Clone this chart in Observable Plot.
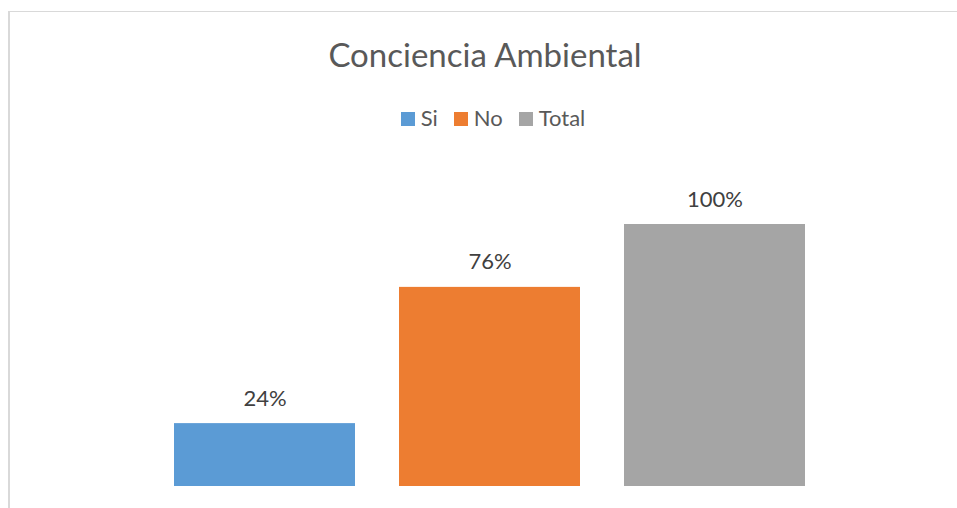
<!DOCTYPE html>
<html>
<head>
<meta charset="utf-8">
<script src="https://cdn.jsdelivr.net/npm/d3@7"></script>
<script src="https://cdn.jsdelivr.net/npm/@observablehq/plot@0.6"></script>
<style>
  html, body { margin: 0; padding: 0; background: #fff; }
  #wrap { position: relative; width: 957px; height: 508px; overflow: hidden; font-family: Lato, "Open Sans", sans-serif; }
  #frame { position: absolute; left: 8px; top: 11px; width: 2000px; height: 2000px; border-left: 2px solid #d9d9d9; border-top: 1px solid #d9d9d9; }
  #title { position: absolute; left: 0; top: 37.7px; width: 970px; text-align: center; font-size: 33px; line-height: 1; color: #595959; white-space: nowrap; }
  #legend { position: absolute; left: 0; top: 107px; width: 986px; display: flex; justify-content: center; font-size: 22px; line-height: 1; color: #595959; }
  #legend .item { margin: 0 8px; white-space: nowrap; }
  #legend .sw { display: inline-block; width: 14px; height: 14px; margin-right: 6px; }
  #chart { position: absolute; left: 0; top: 150px; }
</style>
</head>
<body>
<div id="wrap">
  <div id="frame"></div>
  <div id="title"></div>
  <div id="legend"></div>
  <div id="chart"></div>
</div>
<script>
const title = "Conciencia Ambiental";
const categories = ["Si", "No", "Total"];
const values = [24, 76, 100];
const labels = ["24%", "76%", "100%"];
const colors = ["#5B9BD5", "#ED7D31", "#A5A5A5"];

document.getElementById("title").textContent = title;
const leg = document.getElementById("legend");
categories.forEach((c, i) => {
  const it = document.createElement("span");
  it.className = "item";
  const sw = document.createElement("span");
  sw.className = "sw";
  sw.style.background = colors[i];
  it.appendChild(sw);
  it.appendChild(document.createTextNode(c));
  leg.appendChild(it);
});

const data = categories.map((c, i) => ({cat: c, value: values[i], label: labels[i]}));

const plot = Plot.plot({
  width: 957,
  height: 358,
  margin: 0,
  style: {fontFamily: "Lato, 'Open Sans', sans-serif", background: "transparent", overflow: "visible"},
  x: {domain: categories, range: [174, 805], paddingInner: 0.1956, paddingOuter: 0, axis: null},
  y: {domain: [0, 100], range: [336, 74], axis: null},
  color: {domain: categories, range: colors},
  marks: [
    Plot.barY(data, {x: "cat", y: "value", fill: "cat"}),
    Plot.text(data, {x: "cat", y: "value", text: "label", lineAnchor: "bottom", dy: -18, fontSize: 22, fill: "#404040"})
  ]
});
document.getElementById("chart").appendChild(plot);
</script>
</body>
</html>
